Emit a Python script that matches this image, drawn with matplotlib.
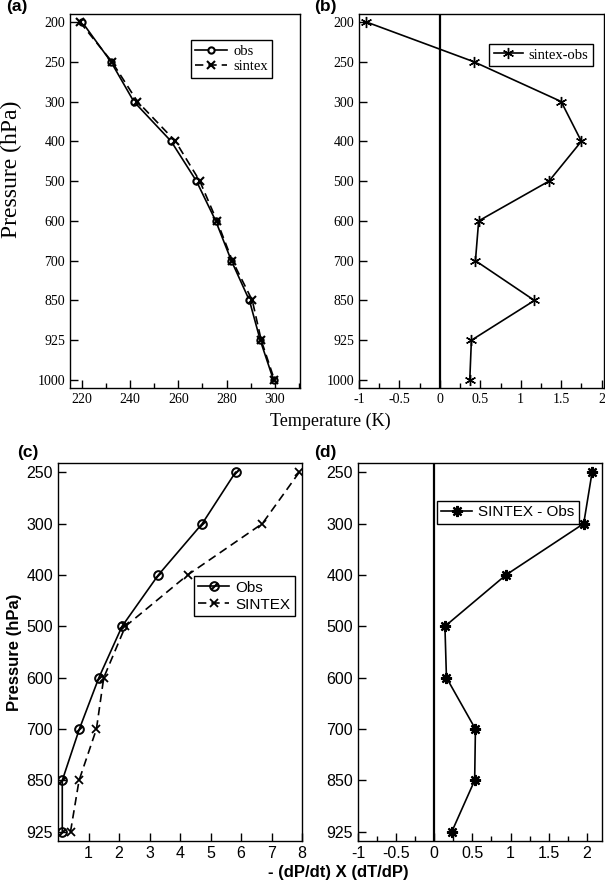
import matplotlib
matplotlib.use("Agg")
import matplotlib.pyplot as plt
from matplotlib.ticker import MultipleLocator

# pressure levels (equally spaced on the plot)
levels_top = ["200", "250", "300", "400", "500", "600", "700", "850", "925", "1000"]
levels_bot = ["250", "300", "400", "500", "600", "700", "850", "925"]

# (a) temperature profiles (K)
t_obs = [220.0, 232.0, 241.5, 257.0, 267.5, 275.5, 282.0, 289.5, 294.0, 299.5]
t_sintex = [219.1, 232.4, 243.0, 258.8, 268.9, 276.0, 282.4, 290.7, 294.4, 299.9]

# (b) sintex - obs (K)
t_diff = [-0.91, 0.42, 1.50, 1.75, 1.35, 0.48, 0.44, 1.17, 0.39, 0.37]

# (c) - (dP/dt) X (dT/dP)
adv_obs = [5.82, 4.73, 3.29, 2.10, 1.34, 0.70, 0.14, 0.14]
adv_sintex = [7.91, 6.70, 4.25, 2.21, 1.50, 1.26, 0.69, 0.41]

# (d) SINTEX - Obs
adv_diff = [2.07, 1.96, 0.94, 0.14, 0.16, 0.54, 0.53, 0.23]

W, H = 605, 888
fig = plt.figure(figsize=(W / 100, H / 100), dpi=100)

def px_axes(left, top, right, bottom):
    return fig.add_axes([left / W, 1 - bottom / H, (right - left) / W, (bottom - top) / H])

serif = "Liberation Serif"
sans = "Liberation Sans"
lw = 1.2


def style(ax, family, minor, size):
    ax.tick_params(axis="both", which="major", direction="in", length=6, width=1,
                   top=False, right=False, labelsize=size)
    ax.tick_params(axis="x", which="minor", direction="in", length=3.5, width=1, top=False)
    ax.xaxis.set_minor_locator(MultipleLocator(minor))
    for lab in ax.get_xticklabels() + ax.get_yticklabels():
        lab.set_fontfamily(family)
    for s in ax.spines.values():
        s.set_linewidth(1)


def fmt(v):
    if float(v).is_integer():
        return str(int(v))
    return str(v)


def panel_label(x, y, s):
    fig.text(x / W, 1 - y / H, s, fontfamily=sans, fontweight="bold", fontsize=12.5,
             ha="center", va="center")


# ---- (a)
ax = px_axes(70, 14, 300, 388)
y = list(range(len(levels_top)))
ax.plot(t_obs, y, "-", color="black", lw=lw, marker="o", ms=4.5, mfc="white", mec="black",
        mew=1.5, label="obs")
ax.plot(t_sintex, y, color="black", lw=lw, ls=(0, (5, 3)), marker="x", ms=6, mew=1.5,
        label="sintex")
ax.set_xlim(215, 310.5)
ax.set_ylim(9.2, -0.2)
ax.set_yticks(y)
ax.set_yticklabels(levels_top)
ax.set_xticks([220, 240, 260, 280, 300])
style(ax, serif, 10, 10)
fig.text(11 / W, 1 - 169 / H, "Pressure (hPa)", fontfamily=serif, fontsize=17,
         rotation=90, ha="center", va="center")
ax.legend(loc="upper right", bbox_to_anchor=(0.88, 0.93), prop={"family": serif, "size": 10.5},
          fancybox=False, edgecolor="black", framealpha=1, handlelength=2.2,
          borderpad=0.3, labelspacing=0.15, handletextpad=0.4, borderaxespad=0)
ax.legend_.get_frame().set_linewidth(1)
panel_label(17, 6, "(a)")

# ---- (b)
ax = px_axes(359, 14, 604, 388)
ax.plot(t_diff, y, "-", color="black", lw=lw, marker=(6, 2, 0), ms=8, mew=1,
        label="sintex-obs")
ax.axvline(0, color="black", lw=1.6)
ax.set_xlim(-1, 2.03)
ax.set_ylim(9.2, -0.2)
ax.set_yticks(y)
ax.set_yticklabels(levels_top)
ax.set_xticks([-1, -0.5, 0, 0.5, 1, 1.5, 2])
ax.set_xticklabels([fmt(v) for v in [-1, -0.5, 0, 0.5, 1, 1.5, 2]])
style(ax, serif, 0.25, 10)
ax.legend(loc="upper right", bbox_to_anchor=(0.955, 0.92), prop={"family": serif, "size": 10.5},
          fancybox=False, edgecolor="black", framealpha=1, handlelength=2.0,
          borderpad=0.3, handletextpad=0.4, borderaxespad=0)
ax.legend_.get_frame().set_linewidth(1)
panel_label(325, 6, "(b)")

fig.text(330 / W, 1 - 421 / H, "Temperature (K)", fontfamily=serif, fontsize=13,
         ha="center", va="center")

# ---- (c)
ax = px_axes(58, 463, 302, 841)
yb = list(range(len(levels_bot)))
ax.plot(adv_obs, yb, "-", color="black", lw=lw, marker=r"$\oslash$", ms=7, mew=0.6,
        label="Obs")
ax.plot(adv_sintex, yb, color="black", lw=lw, ls=(0, (5, 3)), marker="x", ms=5.5, mew=1.3,
        label="SINTEX")
ax.set_xlim(0, 8)
ax.set_ylim(7.18, -0.18)
ax.set_yticks(yb)
ax.set_yticklabels(levels_bot)
ax.set_xticks([1, 2, 3, 4, 5, 6, 7, 8])
style(ax, sans, 1, 11.5)
ax.tick_params(axis="x", which="minor", length=0)
ax.set_ylabel("Pressure (hPa)", fontfamily=sans, fontweight="bold", fontsize=12, labelpad=3)
ax.legend(loc="upper right", bbox_to_anchor=(0.97, 0.701), prop={"family": sans, "size": 11},
          fancybox=False, edgecolor="black", framealpha=1, handlelength=2.0,
          borderpad=0.3, labelspacing=0.2, handletextpad=0.4, borderaxespad=0)
ax.legend_.get_frame().set_linewidth(1)
panel_label(28, 453, "(c)")

# ---- (d)
ax = px_axes(358, 463, 602, 841)
ax.plot(adv_diff, yb, "-", color="black", lw=lw, marker=(8, 2, 0), ms=8, mew=1.6,
        label="SINTEX - Obs")
ax.axvline(0, color="black", lw=1.6)
ax.set_xlim(-1, 2.2)
ax.set_ylim(7.18, -0.18)
ax.set_yticks(yb)
ax.set_yticklabels(levels_bot)
ax.set_xticks([-1, -0.5, 0, 0.5, 1, 1.5, 2])
ax.set_xticklabels([fmt(v) for v in [-1, -0.5, 0, 0.5, 1, 1.5, 2]])
style(ax, sans, 0.25, 11.5)
ax.legend(loc="upper right", bbox_to_anchor=(0.905, 0.9), prop={"family": sans, "size": 11},
          fancybox=False, edgecolor="black", framealpha=1, handlelength=2.0,
          borderpad=0.3, handletextpad=0.4, borderaxespad=0)
ax.legend_.get_frame().set_linewidth(1)
panel_label(325, 453, "(d)")

fig.text(338 / W, 1 - 872 / H, "- (dP/dt) X (dT/dP)", fontfamily=sans, fontweight="bold",
         fontsize=12, ha="center", va="center")

fig.savefig("out.png", dpi=100)
